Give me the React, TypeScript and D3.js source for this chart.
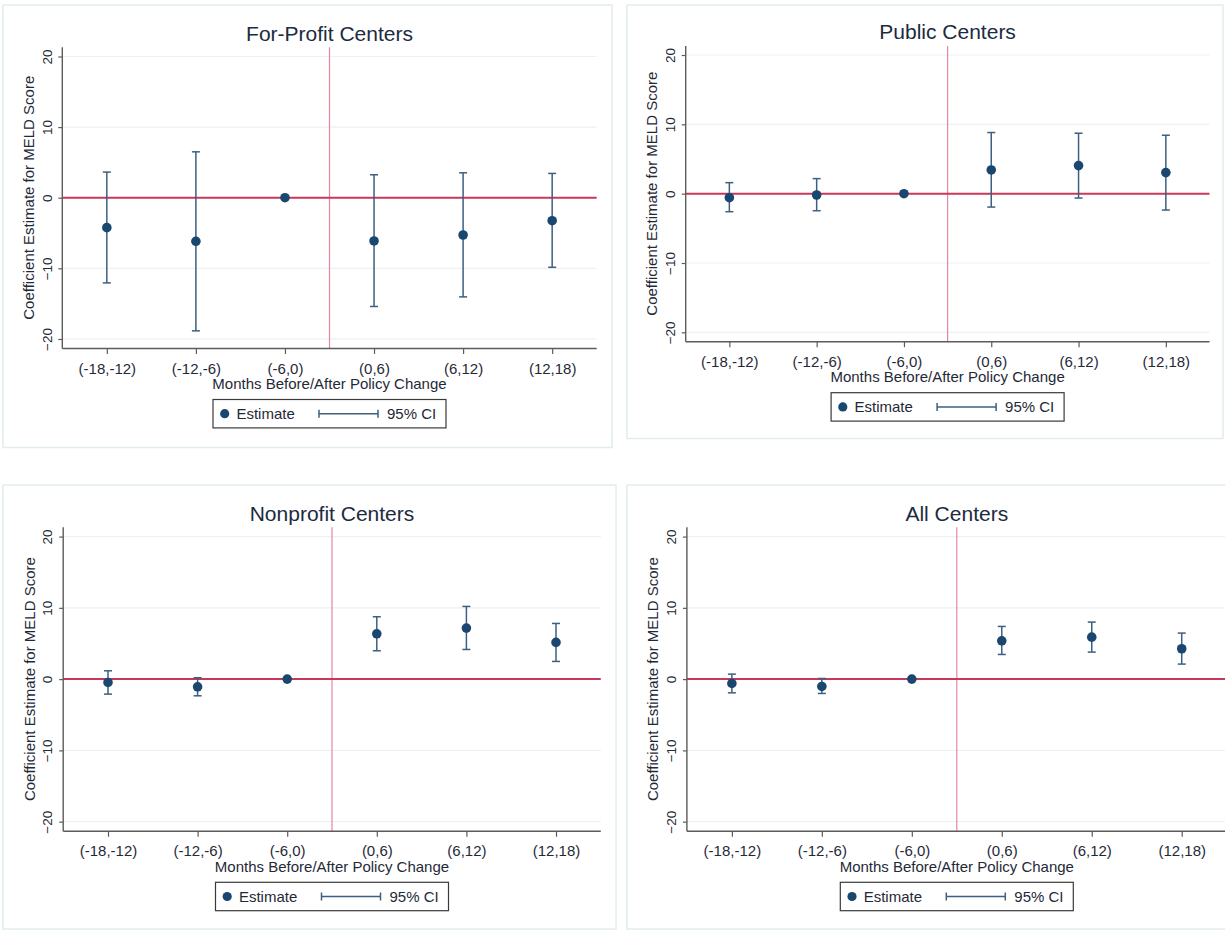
import React, { useEffect, useRef } from 'react';
import * as d3 from 'd3';

// x categories and y ticks shared by all four panels
const categories = ['(-18,-12)', '(-12,-6)', '(-6,0)', '(0,6)', '(6,12)', '(12,18)'];
const yTicks = [-20, -10, 0, 10, 20];
const yDomain = [-21.35, 21.3];

// coefficient estimates and 95% CI bounds (null = reference period, no CI)
const forProfitEstimate = [-4.24, -6.17, 0, -6.12, -5.28, -3.25];
const forProfitLower = [-12.06, -18.85, null, -15.4, -14.04, -9.85];
const forProfitUpper = [3.63, 6.5, null, 3.25, 3.53, 3.44];

const publicEstimate = [-0.58, -0.19, 0, 3.42, 4.05, 3.04];
const publicLower = [-2.6, -2.46, null, -1.93, -0.63, -2.36];
const publicUpper = [1.59, 2.17, null, 8.82, 8.72, 8.43];

const nonprofitEstimate = [-0.47, -1.08, 0, 6.36, 7.16, 5.15];
const nonprofitLower = [-2.1, -2.34, null, 3.98, 4.16, 2.48];
const nonprofitUpper = [1.17, 0.19, null, 8.75, 10.2, 7.81];

const allEstimate = [-0.61, -1.03, 0, 5.38, 5.89, 4.26];
const allLower = [-1.92, -2.01, null, 3.46, 3.79, 2.11];
const allUpper = [0.7, 0.09, null, 7.39, 8.0, 6.46];

const panels = [
    { title: 'For-Profit Centers', estimate: forProfitEstimate, lower: forProfitLower, upper: forProfitUpper },
    { title: 'Public Centers', estimate: publicEstimate, lower: publicLower, upper: publicUpper },
    { title: 'Nonprofit Centers', estimate: nonprofitEstimate, lower: nonprofitLower, upper: nonprofitUpper },
    { title: 'All Centers', estimate: allEstimate, lower: allLower, upper: allUpper },
];

// where each panel sits on the page: frame [x0, y0, x1, y1], plot [left, top, right, bottom]
const layouts = [
    { frame: [3, 5, 612, 447.5], plot: [62.3, 47.3, 596.7, 348.5] },
    { frame: [627, 5, 1223, 438.5], plot: [685.7, 46, 1209.5, 341.7] },
    { frame: [3, 485, 616, 929], plot: [63.2, 527.3, 600.8, 831.3] },
    { frame: [627, 485, 1245, 929], plot: [686.9, 527.3, 1226.7, 831.3] },
];

const FONT = '"Liberation Sans", Arial, sans-serif';
const NAVY = '#1a476f';
const CI_COLOR = '#3d5f80';
const TEXT = '#1f2a38';

const App = () => {
    const chartRef = useRef(null);

    useEffect(() => {
        const root = d3.select(chartRef.current);
        root.selectAll('*').remove();

        const svg = root
            .append('svg')
            .attr('width', 1225)
            .attr('height', 930)
            .style('position', 'absolute')
            .style('left', 0)
            .style('top', 0)
            .style('background', '#fff')
            .style('font-family', FONT);

        panels.forEach((panel, i) => {
            const { frame, plot } = layouts[i];
            const [left, top, right, bottom] = plot;
            const g = svg.append('g');

            // outer frame
            g.append('rect')
                .attr('x', frame[0])
                .attr('y', frame[1])
                .attr('width', frame[2] - frame[0])
                .attr('height', frame[3] - frame[1])
                .attr('fill', '#fff')
                .attr('stroke', '#e2ecee')
                .attr('stroke-width', 1.5);

            const x = d3.scalePoint().domain(categories).range([left, right]).padding(0.5);
            const y = d3.scaleLinear().domain(yDomain).range([bottom, top]);

            // gridlines
            g.append('g')
                .selectAll('line')
                .data(yTicks.filter((t) => t !== 0))
                .enter()
                .append('line')
                .attr('x1', left)
                .attr('x2', right)
                .attr('y1', (d) => y(d))
                .attr('y2', (d) => y(d))
                .attr('stroke', '#eaf2f3')
                .attr('stroke-width', 1.2);

            // policy change line, between (-6,0) and (0,6)
            const vx = (x(categories[2]) + x(categories[3])) / 2;
            g.append('line')
                .attr('x1', vx)
                .attr('x2', vx)
                .attr('y1', top)
                .attr('y2', bottom)
                .attr('stroke', '#e4879b')
                .attr('stroke-width', 1.2);

            // zero line
            g.append('line')
                .attr('x1', left)
                .attr('x2', right)
                .attr('y1', y(0))
                .attr('y2', y(0))
                .attr('stroke', '#c9385a')
                .attr('stroke-width', 2);

            // y axis
            const yAxis = g.append('g').attr('transform', `translate(${left},0)`);
            yAxis.call(d3.axisLeft(y).tickValues(yTicks).tickSize(4).tickSizeOuter(0).tickFormat(d3.format('d')));
            yAxis.select('.domain').remove();
            yAxis.append('line')
                .attr('y1', top)
                .attr('y2', bottom)
                .attr('stroke', '#5c5c5c')
                .attr('stroke-width', 1.4);
            yAxis.selectAll('.tick line').attr('stroke', '#5c5c5c').attr('stroke-width', 1.2);
            yAxis.selectAll('.tick text')
                .attr('x', null)
                .attr('dy', null)
                .attr('transform', 'translate(-10.8,0) rotate(-90)')
                .attr('text-anchor', 'middle')
                .attr('fill', TEXT)
                .style('font-family', FONT)
                .style('font-size', '13.5px');

            // x axis
            const xAxis = g.append('g').attr('transform', `translate(0,${bottom})`);
            xAxis.call(d3.axisBottom(x).tickSize(5.5).tickSizeOuter(0));
            xAxis.select('.domain').remove();
            xAxis.append('line')
                .attr('x1', left)
                .attr('x2', right)
                .attr('stroke', '#5c5c5c')
                .attr('stroke-width', 1.4);
            xAxis.selectAll('.tick line').attr('stroke', '#5c5c5c').attr('stroke-width', 1.2);
            xAxis.selectAll('.tick text')
                .attr('y', 25)
                .attr('dy', null)
                .attr('fill', TEXT)
                .style('font-family', FONT)
                .style('font-size', '15px');

            // confidence intervals
            const rows = categories.map((c, j) => ({
                cat: c,
                est: panel.estimate[j],
                lo: panel.lower[j],
                hi: panel.upper[j],
            }));
            const ci = g.append('g').attr('stroke', CI_COLOR).attr('stroke-width', 1.5);
            rows.filter((d) => d.lo !== null).forEach((d) => {
                const cx = x(d.cat);
                ci.append('line').attr('x1', cx).attr('x2', cx).attr('y1', y(d.lo)).attr('y2', y(d.hi));
                ci.append('line').attr('x1', cx - 4).attr('x2', cx + 4).attr('y1', y(d.lo)).attr('y2', y(d.lo));
                ci.append('line').attr('x1', cx - 4).attr('x2', cx + 4).attr('y1', y(d.hi)).attr('y2', y(d.hi));
            });

            // point estimates
            g.append('g')
                .selectAll('circle')
                .data(rows)
                .enter()
                .append('circle')
                .attr('cx', (d) => x(d.cat))
                .attr('cy', (d) => y(d.est))
                .attr('r', 4.8)
                .attr('fill', NAVY);

            const midX = (left + right) / 2;

            // title
            g.append('text')
                .attr('x', midX)
                .attr('y', top - 6.7)
                .attr('text-anchor', 'middle')
                .attr('fill', '#1c2b40')
                .style('font-size', '21px')
                .text(panel.title);

            // axis titles
            g.append('text')
                .attr('x', midX)
                .attr('y', bottom + 40.4)
                .attr('text-anchor', 'middle')
                .attr('fill', TEXT)
                .style('font-size', '15px')
                .text('Months Before/After Policy Change');

            g.append('text')
                .attr('transform', `translate(${left - 28.6},${y(0)}) rotate(-90)`)
                .attr('text-anchor', 'middle')
                .attr('fill', TEXT)
                .style('font-size', '15px')
                .text('Coefficient Estimate for MELD Score');

            // legend
            const lw = 233;
            const lh = 28.4;
            const lx = midX - lw / 2;
            const ly = bottom + 51;
            const cy = ly + lh / 2;
            const legend = g.append('g');
            legend.append('rect')
                .attr('x', lx)
                .attr('y', ly)
                .attr('width', lw)
                .attr('height', lh)
                .attr('fill', '#fff')
                .attr('stroke', '#3a3a3a')
                .attr('stroke-width', 1.2);
            legend.append('circle').attr('cx', lx + 11.7).attr('cy', cy).attr('r', 4.6).attr('fill', NAVY);
            legend.append('text')
                .attr('x', lx + 23.4)
                .attr('y', cy + 5.3)
                .attr('fill', TEXT)
                .style('font-size', '15px')
                .text('Estimate');
            const lci = legend.append('g').attr('stroke', CI_COLOR).attr('stroke-width', 1.5);
            lci.append('line').attr('x1', lx + 106).attr('x2', lx + 165).attr('y1', cy).attr('y2', cy);
            lci.append('line').attr('x1', lx + 106).attr('x2', lx + 106).attr('y1', cy - 4).attr('y2', cy + 4);
            lci.append('line').attr('x1', lx + 165).attr('x2', lx + 165).attr('y1', cy - 4).attr('y2', cy + 4);
            legend.append('text')
                .attr('x', lx + 174)
                .attr('y', cy + 5.3)
                .attr('fill', TEXT)
                .style('font-size', '15px')
                .text('95% CI');
        });
    }, []);

    return <div ref={chartRef}></div>;
};

export default App;
